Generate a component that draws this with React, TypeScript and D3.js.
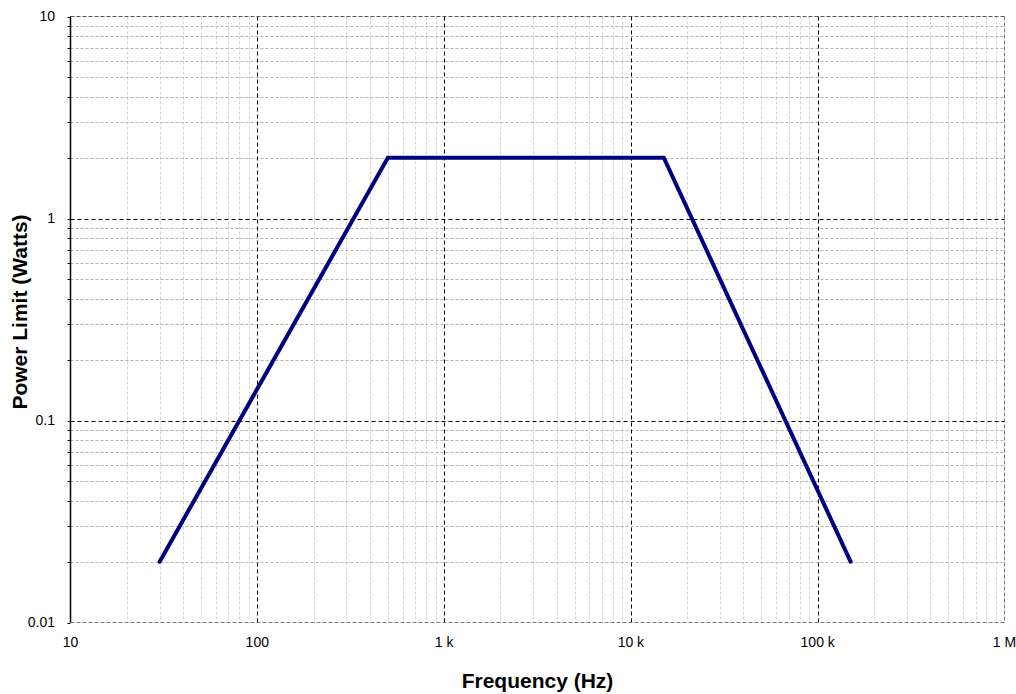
import React from "react";
import * as d3 from "d3";

const freqHz = [30, 500, 15000, 150000];
const powerW = [0.02, 2, 2, 0.02];
const xMajorTicks = [10, 100, 1000, 10000, 100000, 1000000];
const xTickLabels = ["10", "100", "1 k", "10 k", "100 k", "1 M"];
const yMajorTicks = [0.01, 0.1, 1, 10];
const yTickLabels = ["0.01", "0.1", "1", "10"];

const W = 1016, H = 694;
const L = 70.5, R = 1004.5, T = 16.5, B = 622.5;

export default function App() {
  const x = d3.scaleLog().domain([10, 1e6]).range([L, R]);
  const y = d3.scaleLog().domain([0.01, 10]).range([B, T]);

  const xMinor: number[] = [];
  for (let d = 10; d < 1e6; d *= 10) for (let k = 2; k <= 9; k++) xMinor.push(d * k);
  const yMinor: number[] = [];
  for (let d = 0.01; d < 9; d *= 10) for (let k = 2; k <= 9; k++) yMinor.push(+(d * k).toPrecision(3));

  const line = d3.line<number>().x((_, i) => x(freqHz[i])).y((v) => y(v));
  const font = "'Liberation Sans', Arial, sans-serif";

  return (
    <svg width={W} height={H} style={{ position: "absolute", left: 0, top: 0, background: "#fff" }}>
      {xMinor.map((v) => (
        <line key={"xm" + v} x1={Math.round(x(v)) + 0.5} x2={Math.round(x(v)) + 0.5} y1={T} y2={B}
          stroke="#d4d4d4" strokeWidth={1} strokeDasharray="3,2" />
      ))}
      {yMinor.map((v) => (
        <line key={"ym" + v} x1={L} x2={R} y1={Math.round(y(v)) + 0.5} y2={Math.round(y(v)) + 0.5}
          stroke="#b4b4b4" strokeWidth={1} strokeDasharray="3,2" />
      ))}
      {xMajorTicks.slice(1, -1).map((v) => (
        <line key={"xM" + v} x1={Math.round(x(v)) + 0.5} x2={Math.round(x(v)) + 0.5} y1={T} y2={B}
          stroke="#000" strokeWidth={1} strokeDasharray="4,3" />
      ))}
      {yMajorTicks.slice(1, -1).map((v) => (
        <line key={"yM" + v} x1={L} x2={R} y1={Math.round(y(v)) + 0.5} y2={Math.round(y(v)) + 0.5}
          stroke="#000" strokeWidth={1} strokeDasharray="4,3" />
      ))}
      {/* border */}
      <line x1={L} x2={R} y1={T} y2={T} stroke="#555" strokeDasharray="4,2" />
      <line x1={R} x2={R} y1={T} y2={B} stroke="#777" strokeDasharray="4,2" />
      <line x1={L} x2={R} y1={B} y2={B} stroke="#777" strokeDasharray="4,2" />
      <line x1={L} x2={L} y1={T} y2={B} stroke="#000" strokeWidth={1.5} />
      {[...yMinor, ...yMajorTicks].map((v) => (
        <line key={"yt" + v} x1={L - 3} x2={L} y1={Math.round(y(v)) + 0.5} y2={Math.round(y(v)) + 0.5}
          stroke="#000" strokeWidth={1} />
      ))}
      <path d={line(powerW) || ""} fill="none" stroke="#000080" strokeWidth={4}
        strokeLinecap="round" strokeLinejoin="miter" />
      {yMajorTicks.map((v, i) => (
        <text key={"yl" + v} x={55} y={y(v)} dy="0.35em" textAnchor="end"
          fontFamily={font} fontSize={14} fill="#000">{yTickLabels[i]}</text>
      ))}
      {xMajorTicks.map((v, i) => (
        <text key={"xl" + v} x={x(v)} y={647} textAnchor="middle"
          fontFamily={font} fontSize={14} fill="#000">{xTickLabels[i]}</text>
      ))}
      <text x={(L + R) / 2} y={688} textAnchor="middle" fontFamily={font} fontSize={21}
        fontWeight="bold" fill="#000">Frequency (Hz)</text>
      <text transform={`translate(27,312) rotate(-90)`} textAnchor="middle"
        fontFamily={font} fontSize={21} fontWeight="bold" fill="#000">Power Limit (Watts)</text>
    </svg>
  );
}
